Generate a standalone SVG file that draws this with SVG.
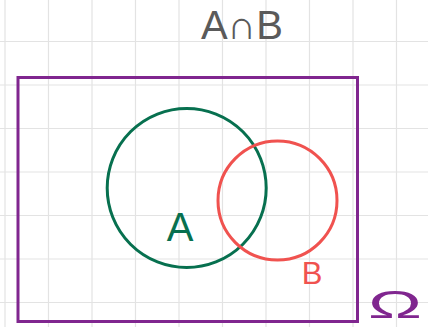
<svg xmlns="http://www.w3.org/2000/svg" width="428" height="327" viewBox="0 0 428 327">
<style>
.grid line{stroke:#e3e3e3;stroke-width:1.2}
.lbl{font-family:"Liberation Sans","DejaVu Sans",sans-serif}
</style>
<rect width="428" height="327" fill="#ffffff"/>
<g class="grid">
<line x1="5" y1="0" x2="5" y2="327"/><line x1="48.5" y1="0" x2="48.5" y2="327"/><line x1="92" y1="0" x2="92" y2="327"/><line x1="135.5" y1="0" x2="135.5" y2="327"/><line x1="179" y1="0" x2="179" y2="327"/><line x1="222.5" y1="0" x2="222.5" y2="327"/><line x1="266" y1="0" x2="266" y2="327"/><line x1="309.5" y1="0" x2="309.5" y2="327"/><line x1="353" y1="0" x2="353" y2="327"/><line x1="396.5" y1="0" x2="396.5" y2="327"/>
<line x1="0" y1="41.5" x2="428" y2="41.5"/><line x1="0" y1="85" x2="428" y2="85"/><line x1="0" y1="128.5" x2="428" y2="128.5"/><line x1="0" y1="172" x2="428" y2="172"/><line x1="0" y1="215.5" x2="428" y2="215.5"/><line x1="0" y1="259" x2="428" y2="259"/><line x1="0" y1="302.5" x2="428" y2="302.5"/>
</g>
<g id="omega">
<rect x="18" y="77.5" width="339.5" height="244" fill="none" stroke="#80268f" stroke-width="3"/>
<text class="lbl" x="368" y="318" font-size="38" fill="#80268f" textLength="54" lengthAdjust="spacingAndGlyphs">Ω</text>
</g>
<g id="setA">
<circle cx="186.7" cy="188" r="79.5" fill="none" stroke="#07704f" stroke-width="3"/>
<text class="lbl" x="180" y="241" font-size="40" fill="#07704f" text-anchor="middle">A</text>
</g>
<g id="setB">
<circle cx="277.5" cy="200.5" r="59.5" fill="none" stroke="#f0524f" stroke-width="3"/>
<text class="lbl" x="312" y="284" font-size="31" fill="#f0524f" text-anchor="middle">B</text>
</g>
<g id="title">
<text class="lbl" x="242" y="39" font-size="40" fill="#5a5a5a" text-anchor="middle">A∩B</text>
</g>
<g id="connectors"/>
</svg>
